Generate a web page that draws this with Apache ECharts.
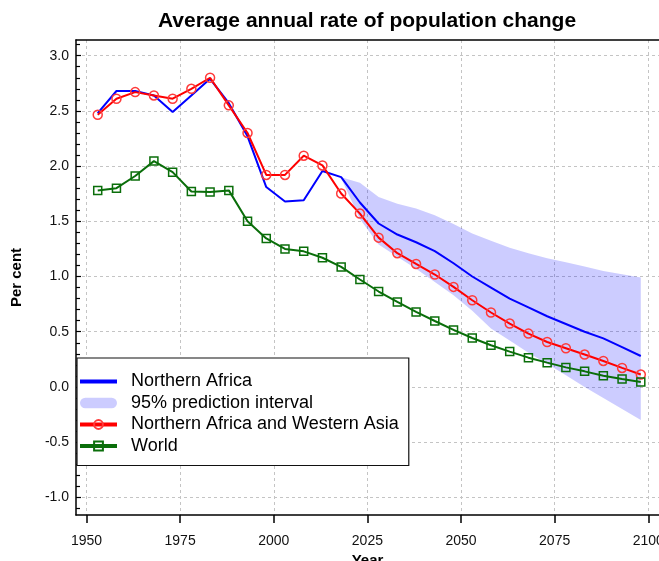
<!DOCTYPE html>
<html>
<head>
<meta charset="utf-8">
<script src="https://cdn.jsdelivr.net/npm/echarts@6/dist/echarts.min.js"></script>
<style>
html,body{margin:0;padding:0;background:#fff;}
#chart{width:659px;height:561px;}
</style>
</head>
<body>
<div id="chart"></div>
<script>
// ---- data ----
const years = [1953,1958,1963,1968,1973,1978,1983,1988,1993,1998,2003,2008,2013,2018,2023,2028,2033,2038,2043,2048,2053,2058,2063,2068,2073,2078,2083,2088,2093,2098];
const northernAfrica = [2.48,2.68,2.68,2.64,2.49,2.64,2.79,2.57,2.27,1.81,1.68,1.69,1.955,1.90,1.67,1.48,1.38,1.31,1.23,1.12,1.00,0.90,0.80,0.72,0.64,0.57,0.50,0.44,0.36,0.28];
const nAfricaWAsia = [2.465,2.61,2.67,2.64,2.61,2.70,2.80,2.55,2.30,1.92,1.92,2.094,2.006,1.752,1.57,1.352,1.211,1.114,1.018,0.906,0.785,0.674,0.574,0.483,0.407,0.35,0.293,0.235,0.172,0.112];
const world = [1.78,1.80,1.91,2.045,1.945,1.77,1.765,1.78,1.50,1.345,1.25,1.228,1.17,1.087,0.973,0.864,0.77,0.679,0.597,0.516,0.443,0.377,0.32,0.265,0.22,0.177,0.141,0.102,0.071,0.044];
const piYears = [2018,2023,2028,2033,2038,2043,2048,2053,2058,2063,2068,2073,2078,2083,2088,2093,2098];
const piLower = [1.89,1.52,1.29,1.18,1.07,0.95,0.83,0.69,0.53,0.42,0.31,0.21,0.105,0.0,-0.10,-0.20,-0.30];
const piUpper = [1.90,1.85,1.72,1.66,1.615,1.555,1.475,1.39,1.323,1.26,1.21,1.165,1.13,1.09,1.05,1.02,0.99];
const xTickValues = [1950,1975,2000,2025,2050,2075,2100];
const yTickValues = [-1.0,-0.5,0.0,0.5,1.0,1.5,2.0,2.5,3.0];
const yMinorTickValues = [-1.1,-0.9,-0.8,-0.7,-0.6,-0.4,-0.3,-0.2,-0.1,0.1,0.2,0.3,0.4,0.6,0.7,0.8,0.9,1.1,1.2,1.3,1.4,1.6,1.7,1.8,1.9,2.1,2.2,2.3,2.4,2.6,2.7,2.8,2.9,3.1];
const titleText = 'Average annual rate of population change';
const names = ['Northern Africa','95% prediction interval','Northern Africa and Western Asia','World'];

// ---- chart ----
const FONT = '"Liberation Sans", Arial, Helvetica, sans-serif';
const X_MIN = 1947.2, X_MAX = 2102.86, Y_MIN = -1.16, Y_MAX = 3.142;
const BAND = 'rgba(0,0,255,0.2)';
const axisLineStyle = {color:'#000', width:1.5};
const gridLineStyle = {type:[3,3], color:'#c4c4c4', width:1};

const pair = (xs, ys) => xs.map((x,i) => [x, ys[i]]);
const bandRows = piYears.map((y,i) => [y, piLower[i], piUpper[i]]);

function renderBand(params, api) {
  if (params.dataIndex !== 0) return null;
  const top = piYears.map((y,i) => api.coord([y, piUpper[i]]));
  const bottom = piYears.map((y,i) => api.coord([y, piLower[i]])).reverse();
  return {type:'polygon', shape:{points: top.concat(bottom)}, style:{fill:BAND}, silent:true};
}

const chart = echarts.init(document.getElementById('chart'), null, {renderer:'canvas'});
chart.setOption({
  animation:false,
  backgroundColor:'#fff',
  title:{
    text:titleText, left:362, top:6, textAlign:'center',
    textStyle:{fontFamily:FONT, fontSize:21, fontWeight:'bold', color:'#000'}
  },
  grid:{left:76, top:40, right:0, bottom:46, containLabel:false, outerBoundsMode:'none'},
  legend:{
    orient:'vertical', left:77, top:358,
    data:[
      {name:names[0], itemStyle:{opacity:0}},
      {name:names[1], icon:'path://M6,0L36,0A6,6,0,0,1,36,12L6,12A6,6,0,0,1,6,0Z', itemStyle:{color:BAND}},
      {name:names[2]},
      {name:names[3]}
    ],
    itemWidth:37, itemHeight:11, itemGap:0.5,
    padding:[13,10,9,1],
    backgroundColor:'#fff', borderColor:'#111', borderWidth:1.2, borderRadius:0,
    selectedMode:false,
    lineStyle:{width:4},
    textStyle:{fontFamily:FONT, fontSize:18, lineHeight:21, color:'#000', padding:[0,0,0,9]}
  },
  xAxis:[{
    type:'value', min:X_MIN, max:X_MAX, position:'bottom',
    name:'Year', nameLocation:'middle', nameGap:35,
    nameTextStyle:{fontFamily:FONT, fontSize:15, fontWeight:'bold', color:'#000'},
    axisLine:{show:true, onZero:false, lineStyle:axisLineStyle},
    axisTick:{show:true, inside:false, length:8, customValues:xTickValues, lineStyle:axisLineStyle},
    axisLabel:{customValues:xTickValues, margin:19, fontFamily:FONT, fontSize:14, color:'#111', formatter:v=>String(v)},
    splitLine:{show:true, lineStyle:gridLineStyle}
  },{
    type:'value', min:X_MIN, max:X_MAX, position:'top',
    axisLine:{show:true, onZero:false, lineStyle:axisLineStyle},
    axisTick:{show:false}, axisLabel:{show:false}, splitLine:{show:false}
  }],
  yAxis:[{
    type:'value', min:Y_MIN, max:Y_MAX, position:'left',
    name:'Per cent', nameLocation:'middle', nameGap:52, nameRotate:90,
    nameTextStyle:{fontFamily:FONT, fontSize:15, fontWeight:'bold', color:'#000'},
    axisLine:{show:true, onZero:false, lineStyle:axisLineStyle},
    axisTick:{show:true, inside:true, length:5, customValues:yTickValues, lineStyle:{color:'#000', width:1.2}},
    axisLabel:{customValues:yTickValues, margin:7, fontFamily:FONT, fontSize:14, color:'#111', formatter:v=>Number(v).toFixed(1)},
    splitLine:{show:true, lineStyle:gridLineStyle}
  },{
    type:'value', min:Y_MIN, max:Y_MAX, position:'left',
    axisLine:{show:false},
    axisTick:{show:true, inside:true, length:4, customValues:yMinorTickValues, lineStyle:{color:'#000', width:1.2}},
    axisLabel:{show:false}, splitLine:{show:false}
  }],
  series:[
    {
      name:names[1], type:'custom', data:bandRows,
      encode:{x:0, y:[1,2]}, renderItem:renderBand,
      itemStyle:{color:BAND}, silent:true, z:1
    },
    {
      name:names[0], type:'line', data:pair(years, northernAfrica),
      symbol:'none', color:'#0000ff',
      lineStyle:{color:'#0000ff', width:2}, z:3
    },
    {
      name:names[2], type:'line', data:pair(years, nAfricaWAsia),
      symbol:'circle', symbolSize:9,
      lineStyle:{color:'#ff0000', width:2},
      itemStyle:{color:'rgba(255,0,0,0)', borderColor:'#ff3a3a', borderWidth:1.5}, z:4
    },
    {
      name:names[3], type:'line', data:pair(years, world),
      symbol:'rect', symbolSize:8,
      lineStyle:{color:'#0a6e0a', width:2},
      itemStyle:{color:'rgba(0,100,0,0)', borderColor:'#0a6e0a', borderWidth:1.5}, z:5
    }
  ]
});
</script>
</body>
</html>
